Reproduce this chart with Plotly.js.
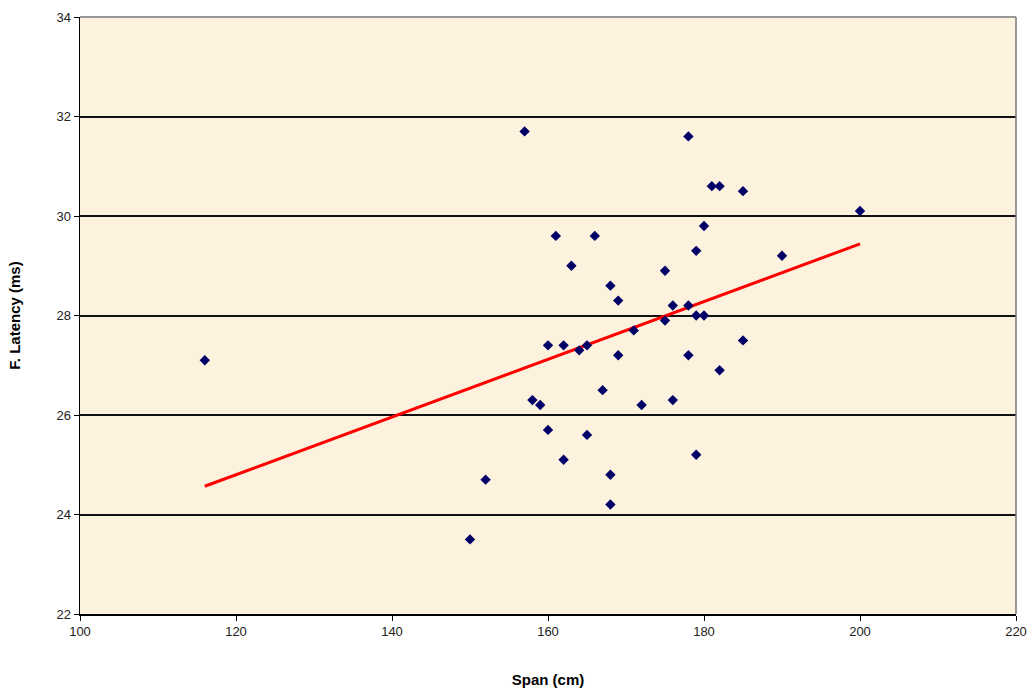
<!DOCTYPE html>
<html>
<head>
<meta charset="utf-8">
<script src="https://cdn.plot.ly/plotly-3.0.1.min.js"></script>
<style>html,body{margin:0;padding:0;background:#fff;}#chart{width:1033px;height:692px;}</style>
</head>
<body>
<div id="chart"></div>
<script>
const span = [116,150,152,157,158,159,160,160,161,162,162,163,164,165,165,166,167,168,168,168,169,169,171,172,175,175,176,176,178,178,178,179,179,179,180,180,181,182,182,185,185,190,200];
const latency = [27.1,23.5,24.7,31.7,26.3,26.2,25.7,27.4,29.6,25.1,27.4,29.0,27.3,25.6,27.4,29.6,26.5,28.6,24.8,24.2,27.2,28.3,27.7,26.2,28.9,27.9,28.2,26.3,31.6,27.2,28.2,29.3,28.0,25.2,28.0,29.8,30.6,30.6,26.9,30.5,27.5,29.2,30.1];
const xTicks = [100,120,140,160,180,200,220];
const yTicks = [22,24,26,28,30,32,34];
const xTitle = 'Span (cm)';
const yTitle = 'F. Latency (ms)';

// least-squares trendline from the data
const n = span.length;
const mx = span.reduce((a,b)=>a+b,0)/n;
const my = latency.reduce((a,b)=>a+b,0)/n;
let sxy=0, sxx=0;
for (let i=0;i<n;i++){ sxy += (span[i]-mx)*(latency[i]-my); sxx += (span[i]-mx)**2; }
const slope = sxy/sxx, icpt = my - slope*mx;
const tx = [Math.min(...span), Math.max(...span)];
const ty = tx.map(v => icpt + slope*v);

const traces = [
  {x: tx, y: ty, mode:'lines', line:{color:'#ff0000', width:3}, hoverinfo:'skip'},
  {x: span, y: latency, mode:'markers', marker:{symbol:'diamond', size:8, color:'#000066', line:{width:0}}}
];

const fam = 'Liberation Sans, Arial, sans-serif';
const layout = {
  width:1033, height:692,
  margin:{l:80, r:17, t:17, b:78},
  paper_bgcolor:'#ffffff',
  plot_bgcolor:'#fcf2de',
  showlegend:false,
  font: {family:fam, size:12, color:'#000'},
  xaxis:{
    range:[100,220], tickvals:xTicks, ticktext:xTicks.map(String),
    showgrid:false, zeroline:false,
    showline:true, linecolor:'#000', linewidth:1.5,
    ticks:'outside', ticklen:5, tickcolor:'#000', tickwidth:1,
    tickfont:{family:fam, size:13, color:'#222'},
    title:{text:'<b>'+xTitle+'</b>', font:{family:fam, size:15, color:'#000'}, standoff:36}
  },
  yaxis:{
    range:[22,34], tickvals:yTicks, ticktext:yTicks.map(String),
    showgrid:true, gridcolor:'#111', gridwidth:2, zeroline:false,
    showline:true, linecolor:'#000', linewidth:1.5,
    ticks:'outside', ticklen:5, tickcolor:'#000', tickwidth:1,
    tickfont:{family:fam, size:13, color:'#222'},
    title:{text:'<b>'+yTitle+'</b>', font:{family:fam, size:15, color:'#000'}, standoff:32}
  },
  shapes:[
    {type:'line', xref:'paper', yref:'paper', x0:0, x1:1, y0:1, y1:1, line:{color:'#777', width:1.5}, layer:'above'},
    {type:'line', xref:'paper', yref:'paper', x0:1, x1:1, y0:0, y1:1, line:{color:'#777', width:1.5}, layer:'above'}
  ]
};
Plotly.newPlot('chart', traces, layout, {displayModeBar:false, staticPlot:true});
</script>
</body>
</html>
